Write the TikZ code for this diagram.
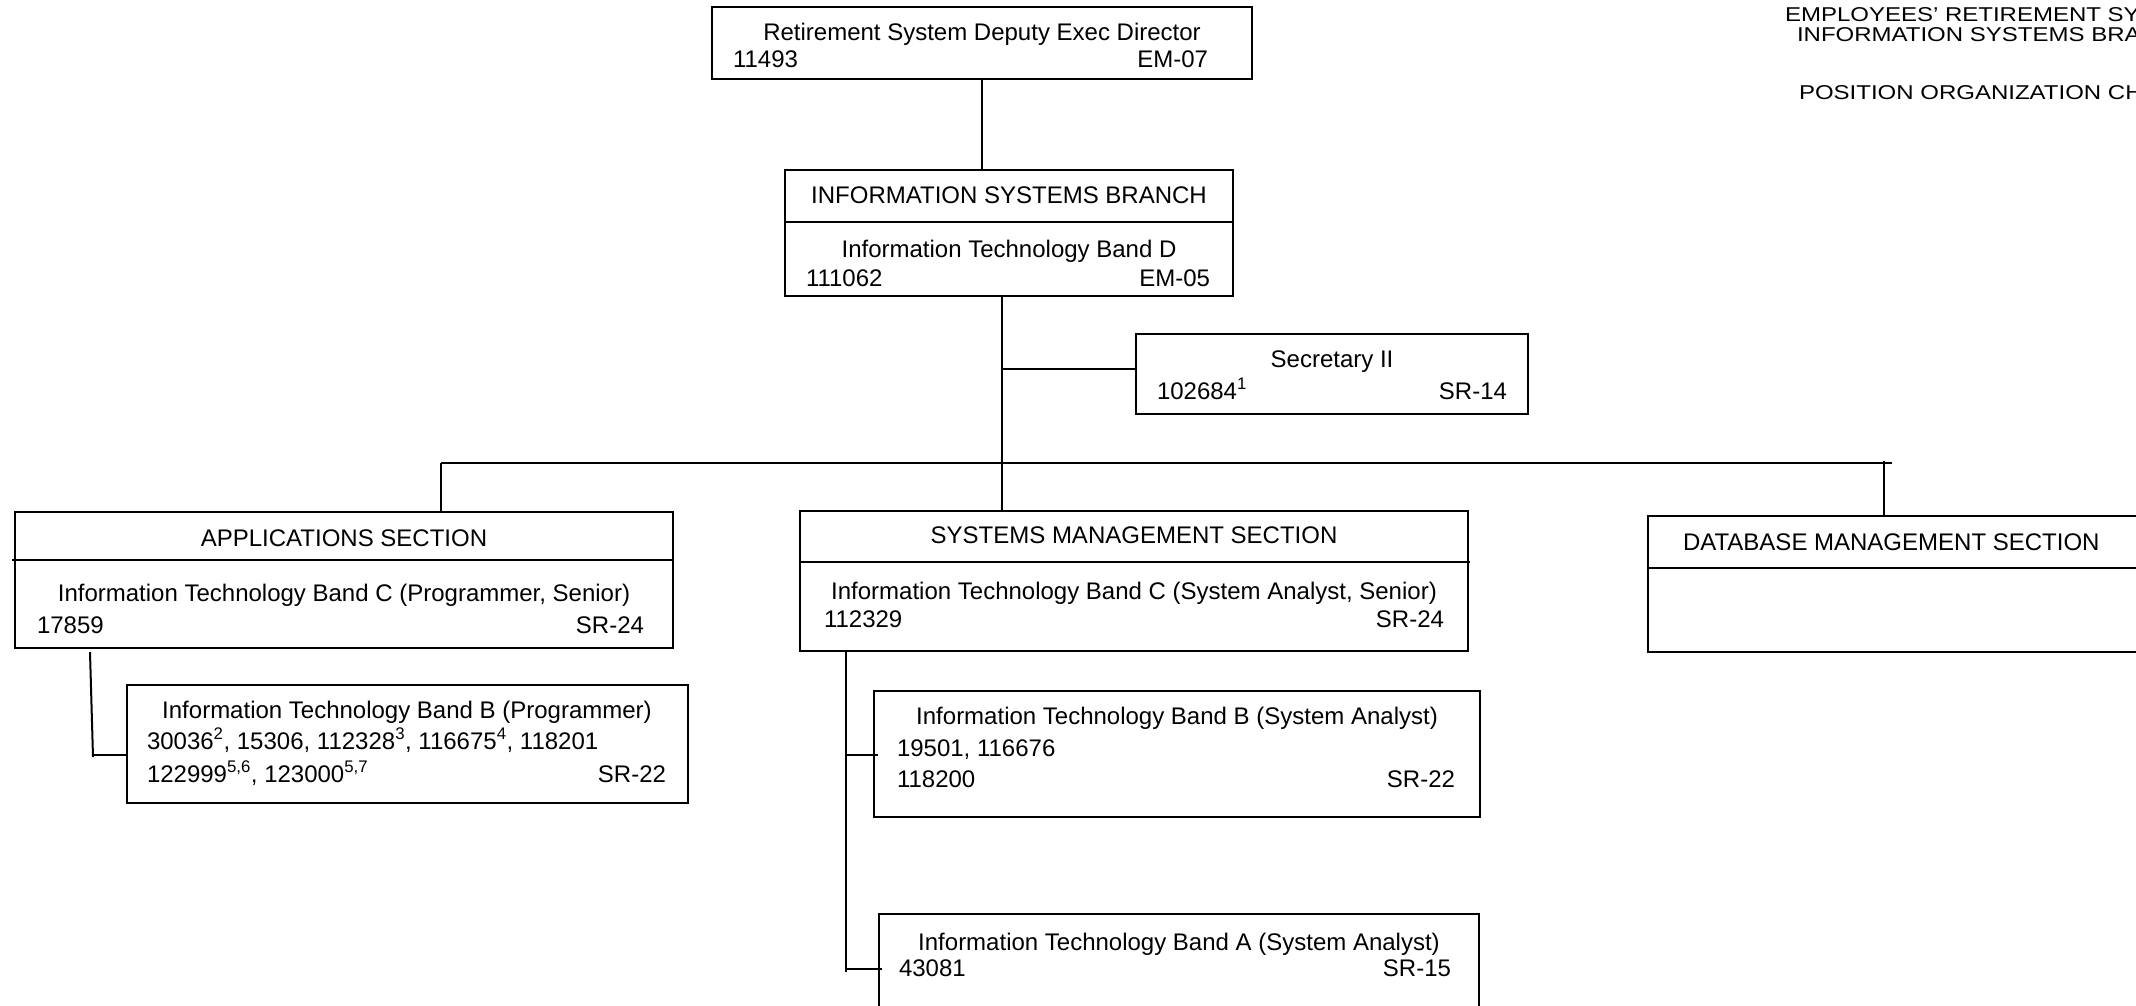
\documentclass[tikz,border=0pt]{standalone}
\usepackage{fontspec}
\setmainfont{Liberation Sans}
\newfontfamily\hdrfont[FakeStretch=1.2]{Liberation Sans}
\begin{document}
\begin{tikzpicture}[x=1pt,y=-1pt,
  box/.style={draw, line width=2pt, inner sep=0pt, outer sep=0pt, anchor=north west},
  txt/.style={inner sep=0pt, outer sep=0pt, font=\fontsize{24}{29}\selectfont},
  hdr/.style={inner sep=0pt, outer sep=0pt, anchor=base west, font=\hdrfont\fontsize{20}{24}\selectfont},
  conn/.style={line width=2pt}]
\useasboundingbox[fill=white] (0,0) rectangle (2136,1006);

% ---- boxes ----
\node[box, minimum width=540pt, minimum height=72pt] (top) at (712,7) {};
\node[box, minimum width=448pt, minimum height=126pt] (isb) at (785,170) {};
\node[box, minimum width=392pt, minimum height=80pt] (sec) at (1136,334) {};
\node[box, minimum width=658pt, minimum height=136pt] (apps) at (15,512) {};
\node[box, minimum width=668pt, minimum height=140pt] (sms) at (800,511) {};
\node[box, minimum width=500pt, minimum height=136pt] (db) at (1648,516) {};
\node[box, minimum width=561pt, minimum height=118pt] (appsB) at (127,685) {};
\node[box, minimum width=606pt, minimum height=126pt] (smsB) at (874,691) {};
\node[box, minimum width=600pt, minimum height=110pt] (smsA) at (879,914) {};

% dividers
\draw[conn] (isb.north west) ++(0,52) -- ++(448,0);
\draw[conn] (apps.north west) ++(-3,48) -- ++(662,0);
\draw[conn] (sms.north west) ++(0,51) -- ++(670,0);
\draw[conn] (db.north west) ++(0,52) -- ++(500,0);

% ---- connectors ----
\draw[conn] (top.south) -- (top.south |- isb.north);
\coordinate (trunk) at (1002,296);
\draw[conn] (trunk) -- (trunk |- sms.north);
\coordinate (secj) at (1002,369);
\draw[conn] (secj) -- (secj -| sec.west);
\coordinate (busL) at (441,463);
\coordinate (busR) at (1892,463);
\draw[conn] (busL) -- (busR);
\draw[conn] (busL) -- (busL |- apps.north);
\coordinate (dbdrop) at (1884,461);
\draw[conn] (dbdrop) -- (dbdrop |- db.north);
% applications sub connector
\coordinate (a1) at (90,652);
\coordinate (a2) at (93,757);
\coordinate (a3) at (93,755);
\draw[conn] (a1) -- (a2);
\draw[conn] (a3) -- (a3 -| appsB.west);
% systems management sub connector
\coordinate (s1) at (846,651);
\coordinate (s2) at (846,972);
\coordinate (s3) at (846,755);
\coordinate (s4) at (846,969);
\draw[conn] (s1) -- (s2);
\draw[conn] (s3) -- ([xshift=4pt]s3 -| smsB.west);
\draw[conn] (s4) -- ([xshift=3pt]s4 -| smsA.west);

% ---- texts ----
\node[txt, anchor=base] (t1) at (982,41) {Retirement System Deputy Exec Director};
\node[txt, anchor=base west] (t2) at (733,68) {11493};
\node[txt, anchor=base east] (t3) at (1208,68) {EM-07};

\node[txt, anchor=base] (i1) at (1009,203) {INFORMATION SYSTEMS BRANCH};
\node[txt, anchor=base] (i2) at (1009,257) {Information Technology Band D};
\node[txt, anchor=base west] (i3) at (806,286) {111062};
\node[txt, anchor=base east] (i4) at (1210,286) {EM-05};

\node[txt, anchor=base] (c1) at (1332,367) {Secretary II};
\node[txt, anchor=base west] (c2) at (1157,399) {102684\textsuperscript{1}};
\node[txt, anchor=base east] (c3) at (1507,399) {SR-14};

\node[txt, anchor=base] (p1) at (344,546) {APPLICATIONS SECTION};
\node[txt, anchor=base] (p2) at (344,601) {Information Technology Band C (Programmer, Senior)};
\node[txt, anchor=base west] (p3) at (37,633) {17859};
\node[txt, anchor=base east] (p4) at (644,633) {SR-24};

\node[txt, anchor=base] (q1) at (407,718) {Information Technology Band B (Programmer)};
\node[txt, anchor=base west] (q2) at (147,749) {30036\textsuperscript{2}, 15306, 112328\textsuperscript{3}, 116675\textsuperscript{4}, 118201};
\node[txt, anchor=base west] (q3) at (147,782) {122999\textsuperscript{5,6}, 123000\textsuperscript{5,7}};
\node[txt, anchor=base east] (q4) at (666,782) {SR-22};

\node[txt, anchor=base] (m1) at (1134,543) {SYSTEMS MANAGEMENT SECTION};
\node[txt, anchor=base] (m2) at (1134,599) {Information Technology Band C (System Analyst, Senior)};
\node[txt, anchor=base west] (m3) at (824,627) {112329};
\node[txt, anchor=base east] (m4) at (1444,627) {SR-24};

\node[txt, anchor=base] (b1) at (1177,724) {Information Technology Band B (System Analyst)};
\node[txt, anchor=base west] (b2) at (897,756) {19501, 116676};
\node[txt, anchor=base west] (b3) at (897,787) {118200};
\node[txt, anchor=base east] (b4) at (1455,787) {SR-22};

\node[txt, anchor=base] (n1) at (1179,950) {Information Technology Band A (System Analyst)};
\node[txt, anchor=base west] (n2) at (899,976) {43081};
\node[txt, anchor=base east] (n3) at (1451,976) {SR-15};

\node[txt, anchor=base west] (d1) at (1683,550) {DATABASE MANAGEMENT SECTION};

\node[hdr] (h1) at (1785,22) {EMPLOYEES’ RETIREMENT SY};
\node[hdr] (h2) at (1797,42) {INFORMATION SYSTEMS BRA};
\node[hdr] (h3) at (1799,100) {POSITION ORGANIZATION CH};
\end{tikzpicture}
\end{document}
